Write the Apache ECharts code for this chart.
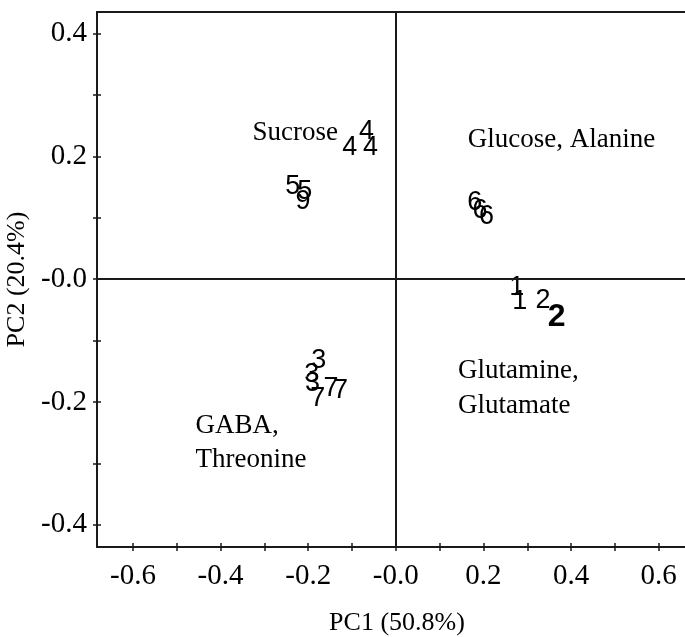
<!DOCTYPE html>
<html>
<head>
<meta charset="utf-8">
<script src="https://cdn.jsdelivr.net/npm/echarts@6/dist/echarts.min.js"></script>
<style>html,body{margin:0;padding:0;background:#fff}#c{width:685px;height:637px}</style>
</head>
<body>
<div id="c"></div>
<script>
// Sample scores (text markers)
const sampleLabels = ['4','4','4','5','5','9','6','6','6','1','1','2','2','3','3','3','7','7','7'];
const pc1 = [-0.067,-0.105,-0.058,-0.235,-0.208,-0.212,0.180,0.192,0.207,0.276,0.283,0.336,0.367,-0.176,-0.192,-0.190,-0.178,-0.148,-0.126];
const pc2 = [0.240,0.214,0.214,0.151,0.143,0.126,0.124,0.111,0.102,-0.014,-0.037,-0.034,-0.062,-0.132,-0.155,-0.170,-0.195,-0.178,-0.182];
const boldFlags = [0,0,0,0,0,0,0,0,0,0,0,0,1,0,0,0,0,0,0];
// Annotations (left-aligned text)
const annotTexts = ['Sucrose','Glucose, Alanine','Glutamine,','Glutamate','GABA,','Threonine'];
const annotX = [-0.327,0.164,0.142,0.142,-0.457,-0.457];
const annotY = [0.238,0.227,-0.149,-0.206,-0.239,-0.294];
// Axis ticks
const xTickLabels = [-0.6,-0.4,-0.2,0,0.2,0.4,0.6];
const xTicks = [-0.6,-0.5,-0.4,-0.3,-0.2,-0.1,0,0.1,0.2,0.3,0.4,0.5,0.6];
const yTickLabels = [-0.4,-0.2,0,0.2,0.4];
const yTicks = [-0.4,-0.3,-0.2,-0.1,0,0.1,0.2,0.3,0.4];
const xMin = -0.682, xMax = 0.660, yMin = -0.436, yMax = 0.435;

const fmt = v => Math.abs(v) < 1e-9 ? '-0.0' : v.toFixed(1);
const serif = 'Liberation Serif';
const lineCol = '#1a1a1a';

const chart = echarts.init(document.getElementById('c'), null, {renderer:'canvas'});
const points = sampleLabels.map((t,i)=>({
  value:[pc1[i],pc2[i]],
  label:{formatter:t, fontSize: boldFlags[i]?32:27, fontWeight: boldFlags[i]?'bold':'normal'}
}));
const annots = annotTexts.map((t,i)=>({value:[annotX[i],annotY[i]], label:{formatter:t}}));

chart.setOption({
  animation:false,
  grid:{left:97, right:0, top:12, bottom:90, containLabel:false, outerBoundsMode:'none'},
  xAxis:[
    {type:'value', position:'bottom', min:xMin, max:xMax,
     name:'PC1 (50.8%)', nameLocation:'middle', nameGap:63,
     nameTextStyle:{fontFamily:serif, fontSize:26, color:'#000', padding:[0,0,0,12]},
     axisLine:{show:true, onZero:false, lineStyle:{color:lineCol, width:2}},
     axisTick:{show:true, inside:false, length:4, customValues:xTicks, lineStyle:{color:lineCol, width:1.5}},
     axisLabel:{show:true, customValues:xTickLabels, formatter:fmt, margin:15, fontFamily:serif, fontSize:29, color:'#000'},
     splitLine:{show:false}},
    {type:'value', position:'bottom', min:xMin, max:xMax,
     axisLine:{show:false, onZero:false},
     axisTick:{show:true, inside:true, length:4, customValues:xTicks, lineStyle:{color:lineCol, width:1.5}},
     axisLabel:{show:false}, splitLine:{show:false}},
    {type:'value', position:'top', min:xMin, max:xMax,
     axisLine:{show:true, onZero:false, lineStyle:{color:lineCol, width:2}},
     axisTick:{show:false}, axisLabel:{show:false}, splitLine:{show:false}}
  ],
  yAxis:[
    {type:'value', position:'left', min:yMin, max:yMax,
     name:'PC2 (20.4%)', nameLocation:'middle', nameGap:64, nameRotate:90,
     nameTextStyle:{fontFamily:serif, fontSize:26, color:'#000'},
     axisLine:{show:true, onZero:false, lineStyle:{color:lineCol, width:2}},
     axisTick:{show:true, inside:false, length:4, customValues:yTicks, lineStyle:{color:lineCol, width:1.5}},
     axisLabel:{show:true, customValues:yTickLabels, formatter:fmt, margin:10, fontFamily:serif, fontSize:29, color:'#000'},
     splitLine:{show:false}},
    {type:'value', position:'left', min:yMin, max:yMax,
     axisLine:{show:false, onZero:false},
     axisTick:{show:true, inside:true, length:4, customValues:yTicks, lineStyle:{color:lineCol, width:1.5}},
     axisLabel:{show:false}, splitLine:{show:false}}
  ],
  series:[
    {type:'scatter', xAxisIndex:0, yAxisIndex:0, symbolSize:0, silent:true,
     itemStyle:{opacity:1},
     data:points,
     label:{show:true, position:'inside', color:'#000', opacity:1, textBorderWidth:0, fontFamily:'Liberation Sans'},
     markLine:{silent:true, symbol:['none','none'], label:{show:false},
       lineStyle:{color:lineCol, width:2, type:'solid', opacity:1},
       data:[{xAxis:0},{yAxis:0}]}},
    {type:'scatter', xAxisIndex:0, yAxisIndex:0, symbolSize:0, silent:true,
     itemStyle:{opacity:1},
     data:annots,
     label:{show:true, position:'inside', align:'left', verticalAlign:'middle', color:'#000', opacity:1, textBorderWidth:0, fontFamily:serif, fontSize:27}}
  ]
});
</script>
</body>
</html>
